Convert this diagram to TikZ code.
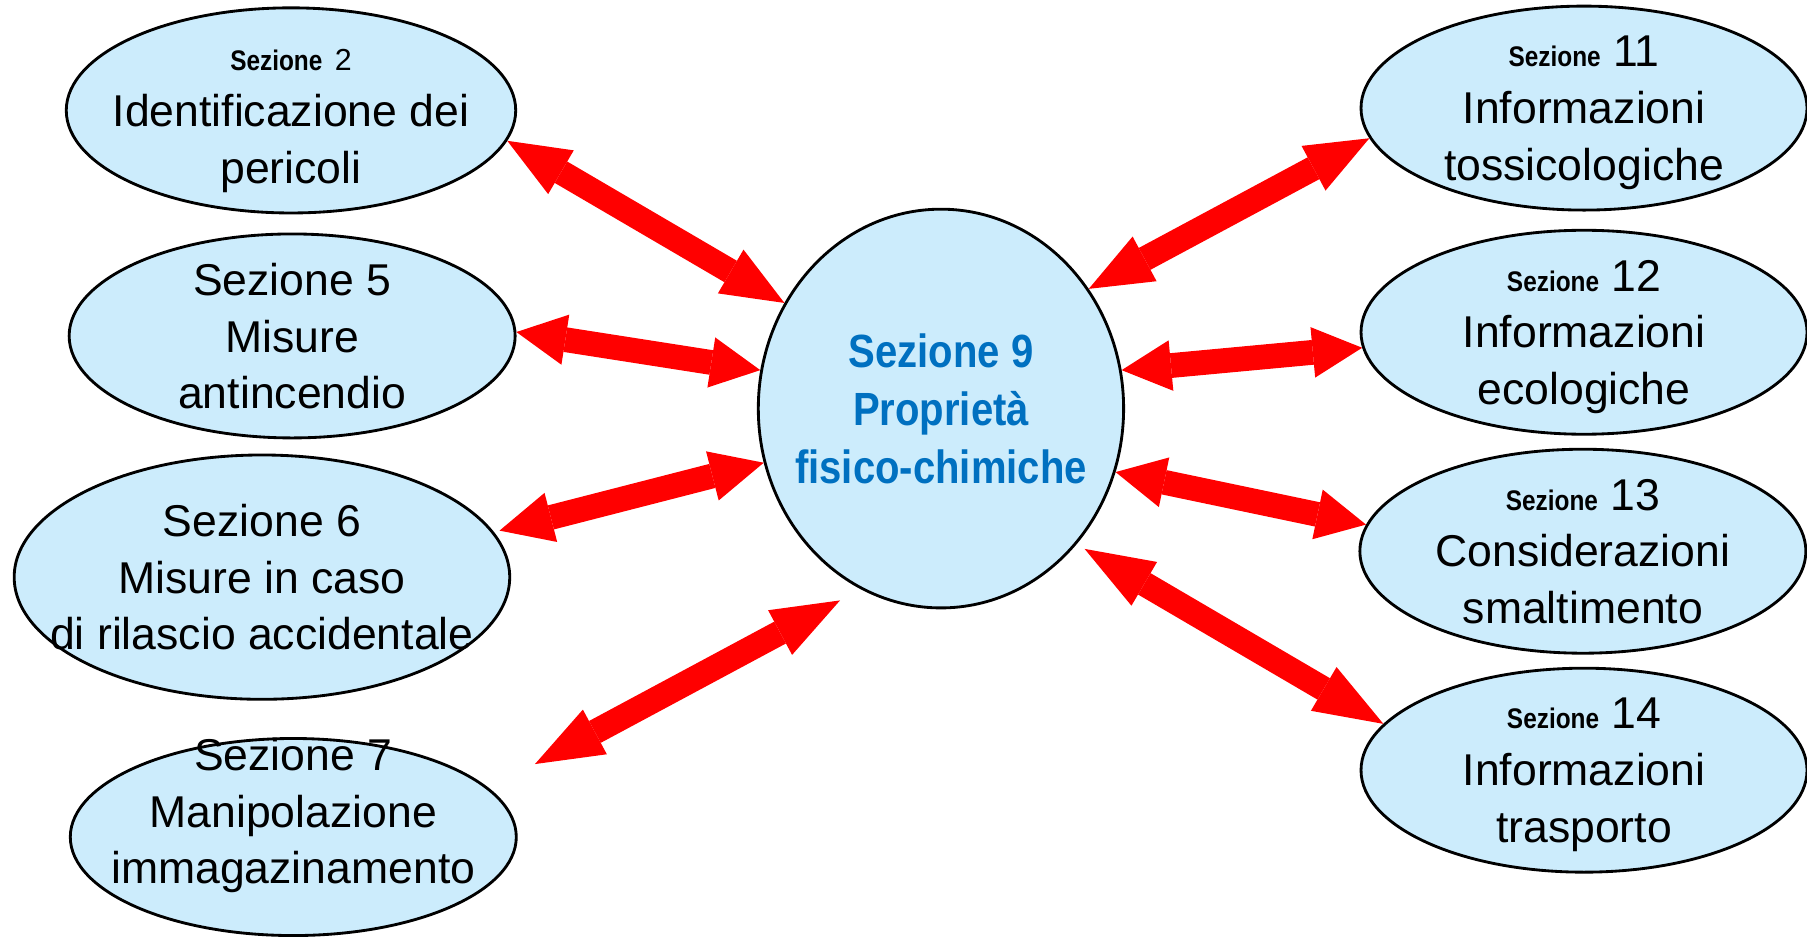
\documentclass[tikz,border=0pt]{standalone}
\usepackage{fontspec}
\setmainfont{Liberation Sans}
\newfontfamily\narrowsans{Liberation Sans}[FakeStretch=0.86]
\usetikzlibrary{arrows.meta,shapes.geometric}

\definecolor{ovalfill}{RGB}{204,236,252}
\definecolor{titleblue}{RGB}{0,112,192}

\newcommand{\sezlabel}[1]{{\narrowsans\fontsize{7}{14}\selectfont\bfseries Sezione} #1}

\tikzset{
  oval/.style={ellipse, draw=black, line width=0.7pt, fill=ovalfill, inner sep=0pt,
    minimum width=3.87cm, minimum height=1.77cm},
  ovaltext/.style={align=center, inner sep=0pt, text depth=0pt, font=\fontsize{11}{14}\selectfont},
  biarrow/.style={red, line width=2.15mm,
    arrows={Triangle[length=#1,width=4.4mm,line width=0pt]-Triangle[length=#1,width=4.4mm,line width=0pt]}}
}

\begin{document}
\begin{tikzpicture}
\useasboundingbox (0,0) rectangle (15.68,8.148);

% Left column
\node[oval, minimum width=3.90cm, minimum height=1.78cm] (sez2) at (2.525,7.19) {};
\node[ovaltext, yshift=-0.5mm] (sez2t) at (sez2) {\sezlabel{{\fontsize{7.5}{14}\selectfont 2}}\\Identificazione dei\\pericoli};

\node[oval] (sez5) at (2.535,5.233) {};
\node[ovaltext] (sez5t) at (sez5) {Sezione 5\\Misure\\antincendio};

\node[oval, minimum width=4.30cm, minimum height=2.12cm] (sez6) at (2.273,3.14) {};
\node[ovaltext] (sez6t) at (sez6) {Sezione 6\\Misure in caso\\di rilascio accidentale};

\node[oval, minimum height=1.71cm] (sez7) at (2.545,0.885) {};
\node[ovaltext] (sez7t) at (2.545,1.11) {Sezione 7\\Manipolazione\\immagazinamento};

% Centre
\node[oval, minimum width=3.17cm, minimum height=3.46cm] (sez9) at (8.165,4.603) {};
\node[ovaltext, text=titleblue, font=\narrowsans\bfseries\fontsize{11.5}{14.3}\selectfont]
  (sez9t) at (sez9) {Sezione 9\\Proprietà\\fisico-chimiche};

% Right column
\node[oval] (sez11) at (13.745,7.21) {};
\node[ovaltext] (sez11t) at (sez11) {\sezlabel{11}\\Informazioni\\tossicologiche};

\node[oval] (sez12) at (13.745,5.265) {};
\node[ovaltext] (sez12t) at (sez12) {\sezlabel{12}\\Informazioni\\ecologiche};

\node[oval] (sez13) at (13.735,3.365) {};
\node[ovaltext] (sez13t) at (sez13) {\sezlabel{13}\\Considerazioni\\smaltimento};

\node[oval] (sez14) at (13.745,1.465) {};
\node[ovaltext] (sez14t) at (sez14) {\sezlabel{14}\\Informazioni\\trasporto};

% Double arrows
\coordinate (a7w) at (4.642,1.518);
\coordinate (a7e) at (7.289,2.938);

\draw[biarrow=5.4mm] (sez2.-8) -- (sez9.146);
\draw[biarrow=4.3mm] (sez5.1) -- (sez9.168);
\draw[biarrow=4.6mm, shorten <=0.5mm] (sez6.11) -- (sez9.197);
\draw[biarrow=5.9mm] (a7w) -- (a7e);
\draw[biarrow=5.5mm] (sez9.39) -- (sez11.188);
\draw[biarrow=4.3mm] (sez9.12) -- (sez12.184);
\draw[biarrow=4.3mm] (sez9.340) -- (sez13.173);
\draw[biarrow=6mm, shorten <=0.8mm] (sez9.315) -- (sez14.167);
\end{tikzpicture}
\end{document}
